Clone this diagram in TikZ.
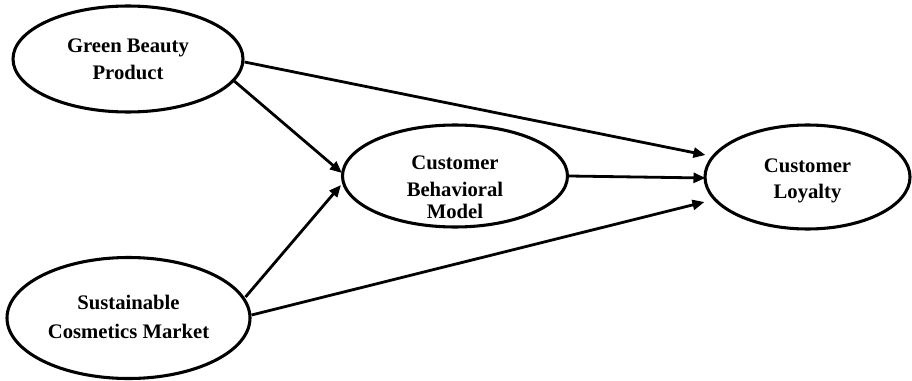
\documentclass[tikz,border=0pt]{standalone}
\usepackage{fontspec}
\setmainfont{Liberation Serif}
\usetikzlibrary{shapes.geometric,arrows.meta,calc}
\begin{document}
\begin{tikzpicture}[x=0.75pt,y=-0.75pt,
  oval/.style={ellipse, draw, line width=2.3pt, inner sep=0pt},
  lbl/.style={align=center, inner sep=0pt, font=\bfseries\fontsize{15.5}{20.25}\selectfont},
  arr/.style={line width=2.1pt, -{Triangle[length=9pt,width=7.5pt]}}]
\useasboundingbox (0,0) rectangle (912,381);
% ellipses
\node[oval, minimum width=172.5pt, minimum height=79.5pt] (g) at (128,59) {};
\node[oval, minimum width=168.75pt, minimum height=76.5pt] (b) at (455,176) {};
\node[oval, minimum width=153.75pt, minimum height=78pt] (l) at (807.5,177) {};
\node[oval, minimum width=182.25pt, minimum height=90.75pt] (s) at (128.5,318) {};
% labels
\node[lbl] (gt) at ($(g.center)+(0,0)$) {Green Beauty\\Product};
\node[lbl] (bt) at ($(b.center)+(0,11.7)$) {Customer\\[0pt]Behavioral\\[-3.75pt]Model};
\node[lbl] (lt) at ($(l.center)+(0,3.4)$) {Customer\\[-0.75pt]Loyalty};
\node[lbl] (st) at ($(s.center)+(0,-1.3)$) {Sustainable\\[1.5pt]Cosmetics Market};
% connectors
\draw[arr] ($(g.east)+(0,3)$) -- ($(l.west)+(2,-22)$);
\draw[arr] ($(g.center)+(105,21)$) -- ($(b.west)+(1,-3)$);
\draw[arr] ($(s.center)+(117,-21)$) -- ($(b.west)+(0,9)$);
\draw[arr] ($(s.east)+(0,-3)$) -- ($(l.west)+(1,25)$);
\draw[arr] (b.east) -- ($(l.west)+(2,1)$);
\end{tikzpicture}
\end{document}
